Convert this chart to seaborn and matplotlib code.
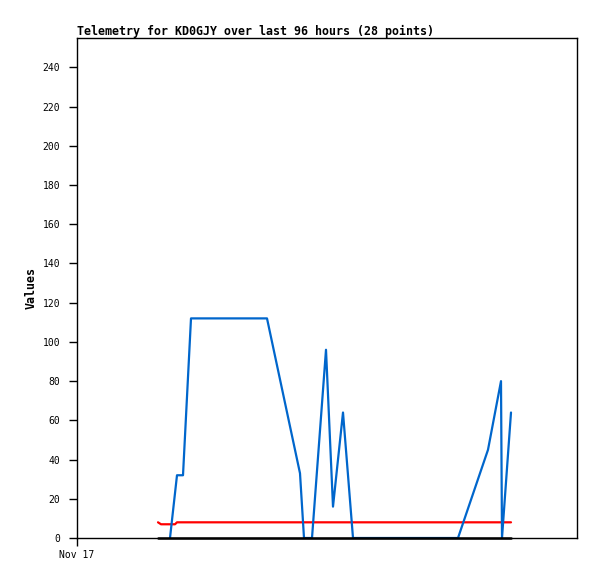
import matplotlib
matplotlib.use("Agg")
import matplotlib.pyplot as plt
import seaborn as sns
import pandas as pd

# hours since Nov 17 00:00
blue_x = [23.25, 25.0, 26.5, 28.5, 47.5, 55.75, 56.75, 58.75, 62.25, 64.0, 66.5, 69.0,
          95.25, 102.75, 106.0, 106.25, 108.5]
blue_y = [0, 32, 32, 112, 112, 33, 0, 0, 96, 16, 64, 0, 0, 45, 80, 0, 64]
red_x = [20.25, 21.0, 24.5, 25.0, 108.5]
red_y = [8, 7, 7, 8, 8]
black_x = [20.25, 108.5]
black_y = [0, 0]
y_ticks = list(range(0, 241, 20))
x_tick_labels = ["Nov 17"]
title = "Telemetry for KD0GJY over last 96 hours (28 points)"

sns.set_style("ticks")
plt.rcParams["font.family"] = ["DejaVu Sans Mono"]
for k in ["text.color", "axes.labelcolor", "xtick.color", "ytick.color", "axes.edgecolor"]:
    plt.rcParams[k] = "black"

fig = plt.figure(figsize=(5.97, 5.79), dpi=100)
W, H = 597, 579
ax = fig.add_axes([77 / W, (H - 538) / H, 500 / W, 500 / H])

df_r = pd.DataFrame({"x": red_x, "y": red_y})
df_b = pd.DataFrame({"x": blue_x, "y": blue_y})
df_k = pd.DataFrame({"x": black_x, "y": black_y})

sns.lineplot(data=df_r, x="x", y="y", ax=ax, color="#ff0000", lw=1.6, sort=False, estimator=None)
sns.lineplot(data=df_b, x="x", y="y", ax=ax, color="#0066cc", lw=1.6, sort=False, estimator=None)
sns.lineplot(data=df_k, x="x", y="y", ax=ax, color="#000000", lw=1.8, sort=False, estimator=None,
             clip_on=False)

ax.set_xlim(0, 125)
ax.set_ylim(0, 255)
ax.set_yticks(y_ticks)
ax.set_yticklabels([str(v) for v in y_ticks], fontsize=7)
ax.set_xticks([0])
ax.set_xticklabels(x_tick_labels, fontsize=7)
ax.tick_params(axis="y", length=6, width=1, pad=6, color="black", labelcolor="black")
ax.tick_params(axis="x", length=6, width=1, pad=3, color="black", labelcolor="black")
for s in ax.spines.values():
    s.set_visible(True)
    s.set_color("black")
    s.set_linewidth(1)
ax.set_xlabel("")
ax.set_ylabel("Values", fontsize=8.4, fontweight="bold", va="center", color="black")
ax.yaxis.set_label_coords(-0.092, 0.5)
ax.set_title(title, loc="left", fontsize=8.4, fontweight="bold", pad=2, color="black")

fig.savefig("out.png", dpi=100, facecolor="white")
